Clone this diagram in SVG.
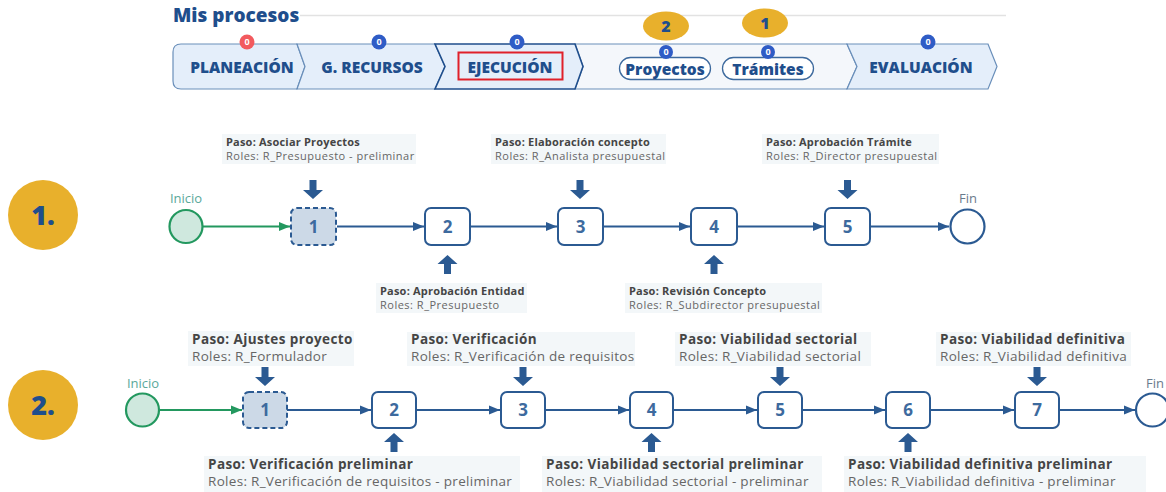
<svg xmlns="http://www.w3.org/2000/svg" width="1166" height="492" viewBox="0 0 1166 492">
<style>
.hdr{font-family:"Open Sans","Liberation Sans",sans-serif;font-weight:800;fill:#1f4e8c}
.seg{fill:#e4eefa;stroke:#6a8fba;stroke-width:1.2}
.bt{font-family:"Open Sans","Liberation Sans",sans-serif;font-weight:700;font-size:9px;fill:#fff;text-anchor:middle}
.gold{fill:#e8b02c}
.goldt{font-family:"Open Sans","Liberation Sans",sans-serif;font-weight:800;fill:#1f4e8c;text-anchor:middle}
.box{fill:#fff;stroke:#2b5a92;stroke-width:2}
.box1{fill:#ccd9e7;stroke:#2b5a92;stroke-width:2;stroke-dasharray:5 3}
.num{font-family:"Open Sans","Liberation Sans",sans-serif;font-weight:700;font-size:17px;fill:#3d6a9e;text-anchor:middle}
.lbg{fill:#f3f7f9}
.p1{font-family:"Open Sans","Liberation Sans",sans-serif;font-weight:700;font-size:11px;letter-spacing:0.2px;fill:#454545}
.r1{font-family:"Open Sans","Liberation Sans",sans-serif;font-size:11px;letter-spacing:0.5px;fill:#666}
.p2{font-family:"Open Sans","Liberation Sans",sans-serif;font-weight:700;font-size:13.5px;letter-spacing:0.4px;fill:#454545}
.r2{font-family:"Open Sans","Liberation Sans",sans-serif;font-size:13.5px;letter-spacing:0.3px;fill:#666}
.blk{fill:#2b5a92}
.ln{fill:none;stroke:#2b5a92;stroke-width:2}
.lng{fill:none;stroke:#23985f;stroke-width:2}
.ini{fill:#cfe8de;stroke:#23985f;stroke-width:2.2}
.fin{fill:#fff;stroke:#2b5a92;stroke-width:2.2}
.cap{font-family:"Open Sans","Liberation Sans",sans-serif;font-size:13px;text-anchor:middle}
</style>
<defs>
<marker id="ab" markerUnits="userSpaceOnUse" markerWidth="12" markerHeight="12" viewBox="0 0 12 12" refX="11" refY="6" orient="auto"><path d="M0,1.5 L11,6 L0,10.5 Z" fill="#2b5a92"/></marker>
<marker id="ag" markerUnits="userSpaceOnUse" markerWidth="12" markerHeight="12" viewBox="0 0 12 12" refX="11" refY="6" orient="auto"><path d="M0,1.5 L11,6 L0,10.5 Z" fill="#23985f"/></marker>
<path id="down" d="M-3.5,0 H3.5 V10 H10 L0,19 L-10,10 H-3.5 Z"/>
<path id="up" d="M-3.5,19 H3.5 V9 H10 L0,0 L-10,9 H-3.5 Z"/>
</defs>
<rect width="1166" height="492" fill="#fff"/>

<g id="header">
<text x="173" y="22" class="hdr" font-size="19">Mis procesos</text>
<line x1="300" y1="15.5" x2="1006" y2="15.5" stroke="#e2e2e2" stroke-width="1.5"/>
<path class="seg" d="M181,44 H297 L305,66.5 L297,89 H181 Q173,89 173,81 V52 Q173,44 181,44 Z"/>
<path class="seg" d="M297,44 H435 L445,66.5 L435,89 H297 L305,66.5 Z"/>
<path class="seg" style="fill:#f4f7fb" d="M575,44 H847 L857,66.5 L847,89 H575 L583,66.5 Z"/>
<path class="seg" d="M847,44 H988 L997,66.5 L988,89 H847 L857,66.5 Z"/>
<path class="seg" style="stroke:#1f4e8c;stroke-width:1.6" d="M435,44 H575 L583,66.5 L575,89 H435 L445,66.5 Z"/>
<text x="242" y="72.5" class="hdr" font-size="15.5" text-anchor="middle">PLANEACIÓN</text>
<text x="372" y="72.5" class="hdr" font-size="15.5" text-anchor="middle">G. RECURSOS</text>
<text x="510" y="72.5" class="hdr" font-size="15.5" text-anchor="middle">EJECUCIÓN</text>
<rect x="458.5" y="52.5" width="104" height="27" fill="none" stroke="#e0202a" stroke-width="2"/>
<text x="921" y="72.5" class="hdr" font-size="15.5" text-anchor="middle">EVALUACIÓN</text>
<rect x="619.5" y="57.5" width="91" height="22" rx="11" fill="#fff" stroke="#3d6a9e" stroke-width="1.3"/>
<rect x="722.5" y="57.5" width="91" height="22" rx="11" fill="#fff" stroke="#3d6a9e" stroke-width="1.3"/>
<text x="665" y="75" class="hdr" font-size="15.5" text-anchor="middle">Proyectos</text>
<text x="768" y="75" class="hdr" font-size="15.5" text-anchor="middle">Trámites</text>
<circle cx="247" cy="42" r="7.5" fill="#f25a5e"/><text x="247" y="45.2" class="bt">0</text>
<circle cx="379" cy="42" r="7.5" fill="#2f5cc6"/><text x="379" y="45.2" class="bt">0</text>
<circle cx="517" cy="42" r="7.5" fill="#2f5cc6"/><text x="517" y="45.2" class="bt">0</text>
<circle cx="666" cy="52" r="7" fill="#2f5cc6"/><text x="666" y="55" class="bt" font-size="8.5">0</text>
<circle cx="768" cy="52" r="7" fill="#2f5cc6"/><text x="768" y="55" class="bt" font-size="8.5">0</text>
<circle cx="928" cy="42" r="7.5" fill="#2f5cc6"/><text x="928" y="45.2" class="bt">0</text>
<ellipse cx="666" cy="26" rx="23" ry="14.5" class="gold"/><text x="666" y="32" class="goldt" font-size="16">2</text>
<ellipse cx="765" cy="23" rx="23" ry="14.5" class="gold"/><text x="765" y="29" class="goldt" font-size="16">1</text>
</g>

<g id="connectors">
<path class="lng" d="M203,226.5 H290" marker-end="url(#ag)"/>
<path class="ln" d="M337,226.5 H424" marker-end="url(#ab)"/>
<path class="ln" d="M470,226.5 H557" marker-end="url(#ab)"/>
<path class="ln" d="M603,226.5 H690" marker-end="url(#ab)"/>
<path class="ln" d="M737,226.5 H824" marker-end="url(#ab)"/>
<path class="ln" d="M870,226.5 H949" marker-end="url(#ab)"/>
<path class="lng" d="M159,410 H242" marker-end="url(#ag)"/>
<path class="ln" d="M287,410 H371" marker-end="url(#ab)"/>
<path class="ln" d="M416,410 H500" marker-end="url(#ab)"/>
<path class="ln" d="M545,410 H629" marker-end="url(#ab)"/>
<path class="ln" d="M673,410 H757" marker-end="url(#ab)"/>
<path class="ln" d="M802,410 H885" marker-end="url(#ab)"/>
<path class="ln" d="M930,410 H1014" marker-end="url(#ab)"/>
<path class="ln" d="M1059,410 H1135" marker-end="url(#ab)"/>
</g>

<!-- Row 1 -->
<g id="r1-badge"><circle cx="43" cy="215" r="35" class="gold"/><text x="43" y="225" class="goldt" font-size="27">1.</text></g>
<g id="r1-inicio"><text x="186" y="203" class="cap" fill="#5aa89a">Inicio</text><circle cx="186" cy="226.5" r="16.5" class="ini"/></g>
<g id="r1-fin"><text x="968" y="203" class="cap" fill="#6a7a8c">Fin</text><circle cx="967.5" cy="226.5" r="17" class="fin"/></g>

<g id="r1-step1">
<rect x="222" y="134" width="194" height="30" class="lbg"/>
<text x="226" y="146" class="p1">Paso: Asociar Proyectos</text>
<text x="226" y="160" class="r1">Roles: R_Presupuesto - preliminar</text>
<use href="#down" x="313" y="180" class="blk"/>
<rect x="291" y="208" width="45" height="37" rx="6" class="box1"/>
<text x="313.5" y="232.5" class="num">1</text>
</g>
<g id="r1-step2">
<rect x="376" y="283" width="151" height="30" class="lbg"/>
<text x="380" y="295" class="p1">Paso: Aprobación Entidad</text>
<text x="380" y="309" class="r1">Roles: R_Presupuesto</text>
<use href="#up" x="447.5" y="255" class="blk"/>
<rect x="425" y="208" width="45" height="37" rx="6" class="box"/>
<text x="447.5" y="232.5" class="num">2</text>
</g>
<g id="r1-step3">
<rect x="491" y="134" width="175" height="30" class="lbg"/>
<text x="495" y="146" class="p1">Paso: Elaboración concepto</text>
<text x="495" y="160" class="r1">Roles: R_Analista presupuestal</text>
<use href="#down" x="580" y="180" class="blk"/>
<rect x="558" y="208" width="45" height="37" rx="6" class="box"/>
<text x="580.5" y="232.5" class="num">3</text>
</g>
<g id="r1-step4">
<rect x="625" y="283" width="197" height="30" class="lbg"/>
<text x="629" y="295" class="p1">Paso: Revisión Concepto</text>
<text x="629" y="309" class="r1">Roles: R_Subdirector presupuestal</text>
<use href="#up" x="714" y="255" class="blk"/>
<rect x="691" y="208" width="46" height="37" rx="6" class="box"/>
<text x="714" y="232.5" class="num">4</text>
</g>
<g id="r1-step5">
<rect x="762" y="134" width="177" height="30" class="lbg"/>
<text x="766" y="146" class="p1">Paso: Aprobación Trámite</text>
<text x="766" y="160" class="r1">Roles: R_Director presupuestal</text>
<use href="#down" x="847.5" y="180" class="blk"/>
<rect x="825" y="208" width="45" height="37" rx="6" class="box"/>
<text x="847.5" y="232.5" class="num">5</text>
</g>

<!-- Row 2 -->
<g id="r2-badge"><circle cx="43" cy="405" r="35" class="gold"/><text x="43" y="415" class="goldt" font-size="27">2.</text></g>
<g id="r2-inicio"><text x="143" y="388" class="cap" fill="#5aa89a">Inicio</text><circle cx="142.5" cy="410" r="16.5" class="ini"/></g>
<g id="r2-fin"><text x="1155" y="388" class="cap" fill="#6a7a8c">Fin</text><circle cx="1152.5" cy="410" r="16.5" class="fin"/></g>

<g id="r2-step1">
<rect x="188" y="331" width="166" height="35" class="lbg"/>
<text x="192" y="344" class="p2">Paso: Ajustes proyecto</text>
<text x="192" y="361" class="r2">Roles: R_Formulador</text>
<use href="#down" x="265" y="367" class="blk"/>
<rect x="243" y="392" width="44" height="36" rx="6" class="box1"/>
<text x="265" y="416" class="num">1</text>
</g>
<g id="r2-step2">
<rect x="204" y="456" width="316" height="36" class="lbg"/>
<text x="208" y="469" class="p2">Paso: Verificación preliminar</text>
<text x="208" y="486" class="r2">Roles: R_Verificación de requisitos - preliminar</text>
<use href="#up" x="394" y="433" class="blk"/>
<rect x="372" y="392" width="44" height="36" rx="6" class="box"/>
<text x="394" y="416" class="num">2</text>
</g>
<g id="r2-step3">
<rect x="407" y="332" width="228" height="34" class="lbg"/>
<text x="411" y="344" class="p2">Paso: Verificación</text>
<text x="411" y="361" class="r2">Roles: R_Verificación de requisitos</text>
<use href="#down" x="523" y="367" class="blk"/>
<rect x="501" y="392" width="44" height="36" rx="6" class="box"/>
<text x="523" y="416" class="num">3</text>
</g>
<g id="r2-step4">
<rect x="542" y="456" width="280" height="36" class="lbg"/>
<text x="546" y="469" class="p2">Paso: Viabilidad sectorial preliminar</text>
<text x="546" y="486" class="r2">Roles: R_Viabilidad sectorial - preliminar</text>
<use href="#up" x="651.5" y="433" class="blk"/>
<rect x="630" y="392" width="43" height="36" rx="6" class="box"/>
<text x="651.5" y="416" class="num">4</text>
</g>
<g id="r2-step5">
<rect x="675" y="332" width="196" height="34" class="lbg"/>
<text x="679" y="344" class="p2">Paso: Viabilidad sectorial</text>
<text x="679" y="361" class="r2">Roles: R_Viabilidad sectorial</text>
<use href="#down" x="780" y="367" class="blk"/>
<rect x="758" y="392" width="44" height="36" rx="6" class="box"/>
<text x="780" y="416" class="num">5</text>
</g>
<g id="r2-step6">
<rect x="844" y="456" width="302" height="36" class="lbg"/>
<text x="848" y="469" class="p2">Paso: Viabilidad definitiva preliminar</text>
<text x="848" y="486" class="r2">Roles: R_Viabilidad definitiva - preliminar</text>
<use href="#up" x="908" y="433" class="blk"/>
<rect x="886" y="392" width="44" height="36" rx="6" class="box"/>
<text x="908" y="416" class="num">6</text>
</g>
<g id="r2-step7">
<rect x="936" y="332" width="195" height="34" class="lbg"/>
<text x="940" y="344" class="p2">Paso: Viabilidad definitiva</text>
<text x="940" y="361" class="r2">Roles: R_Viabilidad definitiva</text>
<use href="#down" x="1037" y="367" class="blk"/>
<rect x="1015" y="392" width="44" height="36" rx="6" class="box"/>
<text x="1037" y="416" class="num">7</text>
</g>
</svg>
